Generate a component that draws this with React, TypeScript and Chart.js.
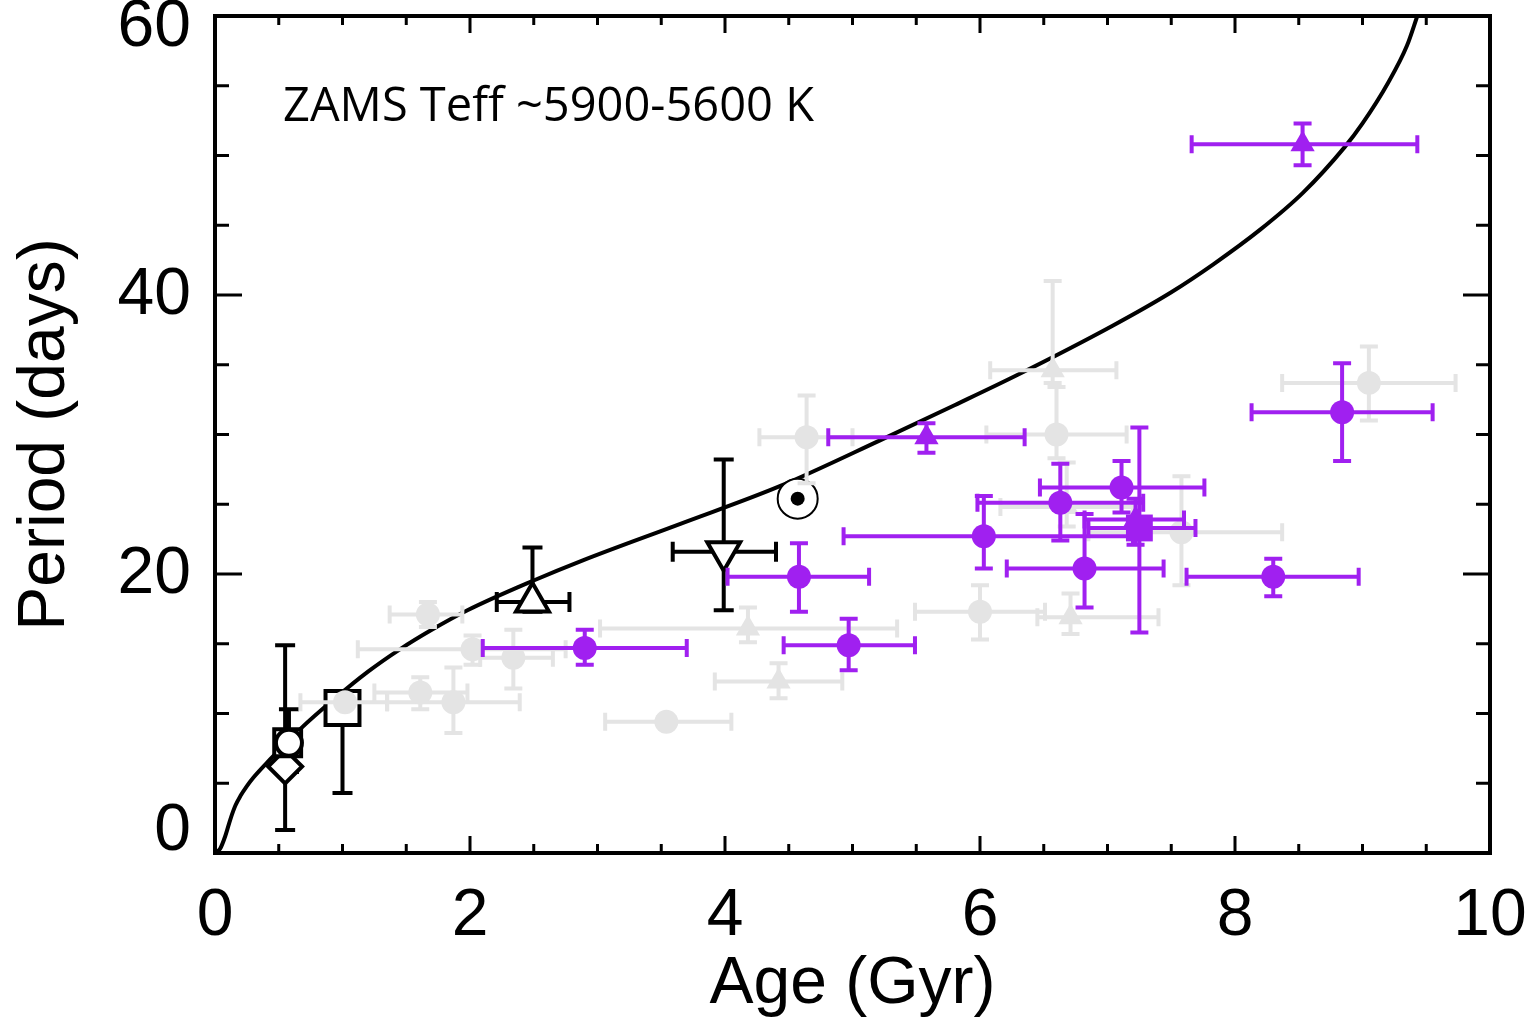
import React, { useEffect, useRef } from "react";
import { Chart, registerables } from "chart.js";

Chart.register(...registerables);

const FONT = "'Liberation Sans', Arial, Helvetica, sans-serif";
const TEXT_FONT = "'Open Sans', 'Noto Sans', sans-serif";
const PURPLE = "#a020f0";
const GRAY = "#e4e4e4";

// Axis ticks
const xTickValues = [0, 2, 4, 6, 8, 10];
const yTickValues = [0, 20, 40, 60];

// Annotation
const annotationText = "ZAMS Teff ~5900-5600 K";

// Model spin-down curve
const curveAge = [0, 0.04, 0.08, 0.12, 0.16, 0.2, 0.25, 0.3, 0.41, 0.55, 0.67, 0.93, 1.2, 1.45, 1.7, 1.98, 2.49, 2.89, 3.65, 4.43, 5.22, 5.8, 6.3, 7.04, 7.5, 7.83, 8.2, 8.53, 8.86, 9.0, 9.2, 9.35, 9.43];
const curvePeriod = [0, 0.3, 1.2, 2.4, 3.4, 4.1, 4.8, 5.4, 6.5, 7.8, 8.9, 11.0, 13.0, 14.6, 16.0, 17.4, 19.5, 21.0, 23.6, 26.3, 29.6, 32.1, 34.3, 37.8, 40.2, 42.2, 44.7, 47.3, 50.6, 52.3, 55.2, 57.9, 60];

// Purple filled circles
const purpleCircleAge = [2.90, 4.58, 4.97, 6.03, 6.63, 7.11, 6.82, 8.30, 8.84];
const purpleCircleAgeLo = [2.10, 4.02, 4.46, 4.93, 5.98, 6.47, 6.21, 7.62, 8.13];
const purpleCircleAgeHi = [3.70, 5.13, 5.49, 7.20, 7.28, 7.76, 7.44, 8.97, 9.55];
const purpleCirclePeriod = [14.7, 19.8, 14.9, 22.7, 25.1, 26.2, 20.4, 19.8, 31.6];
const purpleCirclePeriodLo = [13.5, 17.3, 13.1, 20.4, 22.4, 24.4, 17.6, 18.4, 28.1];
const purpleCirclePeriodHi = [16.0, 22.2, 16.8, 25.6, 27.9, 28.1, 24.3, 21.1, 35.1];

// Purple filled triangles
const purpleTriAge = [5.58, 8.53, 7.22];
const purpleTriAgeLo = [4.81, 7.66, 6.82];
const purpleTriAgeHi = [6.35, 9.43, 7.60];
const purpleTriPeriod = [29.8, 50.8, 23.9];
const purpleTriPeriodLo = [28.7, 49.3, 22.1];
const purpleTriPeriodHi = [30.8, 52.3, 25.4];

// Purple filled square
const purpleSqAge = [7.25];
const purpleSqAgeLo = [6.85];
const purpleSqAgeHi = [7.69];
const purpleSqPeriod = [23.3];
const purpleSqPeriodLo = [15.8];
const purpleSqPeriodHi = [30.5];

// Gray circles
const grayCircleAge = [1.67, 2.02, 2.34, 1.61, 1.87, 1.02, 3.54, 4.64, 6.00, 6.60, 9.05, 7.58];
const grayCircleAgeLo = [1.37, 1.12, 2.08, 1.25, 1.35, 0.67, 3.06, 4.27, 5.49, 6.05, 8.37, 6.85];
const grayCircleAgeHi = [1.94, 2.75, 2.65, 1.98, 2.39, 1.35, 4.05, 5.00, 6.51, 7.15, 9.73, 8.37];
const grayCirclePeriod = [17.1, 14.6, 14.0, 11.5, 10.8, 10.8, 9.4, 29.8, 17.3, 30.0, 33.7, 23.0];
const grayCirclePeriodLo = [16.2, 13.5, 11.8, 10.3, 8.6, 10.8, 9.4, 26.5, 15.3, 28.3, 31.0, 19.2];
const grayCirclePeriodHi = [18.0, 15.6, 16.0, 12.6, 13.3, 10.8, 9.4, 32.8, 19.2, 33.4, 36.3, 27.0];

// Gray triangles
const grayTriAge = [4.18, 4.42, 6.71, 6.57, 6.68];
const grayTriAgeLo = [3.02, 3.92, 6.45, 6.08, 6.16];
const grayTriAgeHi = [5.35, 4.92, 7.40, 7.07, 7.20];
const grayTriPeriod = [16.1, 12.3, 16.9, 34.6, 24.8];
const grayTriPeriodLo = [15.1, 11.1, 15.7, 33.7, 23.4];
const grayTriPeriodHi = [17.6, 13.6, 18.6, 41.0, 28.0];

// Black open symbols (diamond, square, circle, square, triangle up, triangle down)
const blackAge = [0.55, 0.57, 0.58, 1.00, 2.49, 3.99];
const blackAgeLo = [0.55, 0.57, 0.58, 1.00, 2.21, 3.59];
const blackAgeHi = [0.55, 0.57, 0.58, 1.00, 2.78, 4.40];
const blackPeriod = [6.2, 7.9, 7.9, 10.4, 18.0, 21.6];
const blackPeriodLo = [1.65, 7.9, 5.8, 4.3, 17.3, 17.4];
const blackPeriodHi = [14.9, 7.9, 10.3, 10.4, 21.9, 28.2];

// Sun
const sunAge = [4.57];
const sunPeriod = [25.4];

const pts = (xs: number[], ys: number[]) => xs.map((x, i) => ({ x, y: ys[i] }));

const errorBarPlugin = {
  id: "errorBars",
  beforeDatasetDraw(chart: any, args: any) {
    const ds: any = chart.data.datasets[args.index];
    const eb = ds.errorBars;
    if (!eb) return;
    const { ctx, chartArea } = chart;
    const xs = chart.scales.x;
    const ys = chart.scales.y;
    ctx.save();
    ctx.beginPath();
    ctx.rect(chartArea.left, chartArea.top, chartArea.right - chartArea.left, chartArea.bottom - chartArea.top);
    ctx.clip();
    ctx.strokeStyle = ds.errorColor;
    ctx.lineWidth = ds.errorWidth;
    ctx.lineCap = "butt";
    const cap = ds.errorCap;
    ds.data.forEach((p: any, i: number) => {
      const px = xs.getPixelForValue(p.x);
      const py = ys.getPixelForValue(p.y);
      if (eb.xLo[i] !== eb.xHi[i]) {
        const x1 = xs.getPixelForValue(eb.xLo[i]);
        const x2 = xs.getPixelForValue(eb.xHi[i]);
        ctx.beginPath();
        ctx.moveTo(x1, py);
        ctx.lineTo(x2, py);
        ctx.moveTo(x1, py - cap);
        ctx.lineTo(x1, py + cap);
        ctx.moveTo(x2, py - cap);
        ctx.lineTo(x2, py + cap);
        ctx.stroke();
      }
      if (eb.yLo[i] !== eb.yHi[i]) {
        const y1 = ys.getPixelForValue(eb.yLo[i]);
        const y2 = ys.getPixelForValue(eb.yHi[i]);
        ctx.beginPath();
        ctx.moveTo(px, y1);
        ctx.lineTo(px, y2);
        ctx.moveTo(px - cap, y1);
        ctx.lineTo(px + cap, y1);
        ctx.moveTo(px - cap, y2);
        ctx.lineTo(px + cap, y2);
        ctx.stroke();
      }
    });
    ctx.restore();
  },
};

const framePlugin = {
  id: "frameTicks",
  afterDatasetsDraw(chart: any) {
    const { ctx, chartArea } = chart;
    const xs = chart.scales.x;
    const ys = chart.scales.y;
    const { left, right, top, bottom } = chartArea;
    ctx.save();
    ctx.strokeStyle = "#000";
    ctx.lineWidth = 3;
    ctx.lineCap = "butt";
    ctx.beginPath();
    for (let i = 0; i <= 20; i++) {
      const v = i * 0.5;
      const px = xs.getPixelForValue(v);
      const len = i % 4 === 0 ? 17 : 9;
      ctx.moveTo(px, bottom);
      ctx.lineTo(px, bottom - len);
      ctx.moveTo(px, top);
      ctx.lineTo(px, top + len);
    }
    for (let i = 0; i <= 12; i++) {
      const v = i * 5;
      const py = ys.getPixelForValue(v);
      const len = i % 4 === 0 ? 27 : 14;
      ctx.moveTo(left, py);
      ctx.lineTo(left + len, py);
      ctx.moveTo(right, py);
      ctx.lineTo(right - len, py);
    }
    ctx.stroke();
    ctx.lineWidth = 4;
    ctx.strokeRect(left, top, right - left, bottom - top);
    ctx.restore();
  },
  afterDraw(chart: any) {
    const { ctx, chartArea } = chart;
    const ys = chart.scales.y;
    ctx.save();
    ctx.fillStyle = "#000";
    ctx.font = `66px ${FONT}`;
    ctx.textAlign = "right";
    ctx.textBaseline = "middle";
    yTickValues.forEach((v) => {
      let py = ys.getPixelForValue(v);
      py = Math.min(Math.max(py, chartArea.top + 11), chartArea.bottom - 22);
      ctx.fillText(String(v), chartArea.left - 24, py + 1);
    });
    ctx.font = `47px ${TEXT_FONT}`;
    ctx.textAlign = "left";
    ctx.textBaseline = "alphabetic";
    ctx.fillText(annotationText, chartArea.left + 68, chartArea.top + 105);
    ctx.restore();
  },
};

export default function App() {
  const ref = useRef<HTMLCanvasElement | null>(null);
  useEffect(() => {
    if (!ref.current) return;
    const chart = new Chart(ref.current, {
      type: "scatter",
      data: {
        datasets: [
          {
            label: "purple square",
            data: pts(purpleSqAge, purpleSqPeriod),
            pointStyle: "rect",
            pointRadius: 19,
            pointBackgroundColor: PURPLE,
            pointBorderColor: PURPLE,
            pointBorderWidth: 0,
            errorBars: { xLo: purpleSqAgeLo, xHi: purpleSqAgeHi, yLo: purpleSqPeriodLo, yHi: purpleSqPeriodHi },
            errorColor: PURPLE,
            errorWidth: 4,
            errorCap: 9,
          } as any,
          {
            label: "purple triangles",
            data: pts(purpleTriAge, purpleTriPeriod),
            pointStyle: "triangle",
            pointRadius: 14,
            pointBackgroundColor: PURPLE,
            pointBorderColor: PURPLE,
            pointBorderWidth: 0,
            errorBars: { xLo: purpleTriAgeLo, xHi: purpleTriAgeHi, yLo: purpleTriPeriodLo, yHi: purpleTriPeriodHi },
            errorColor: PURPLE,
            errorWidth: 4,
            errorCap: 9,
          } as any,
          {
            label: "purple circles",
            data: pts(purpleCircleAge, purpleCirclePeriod),
            pointStyle: "circle",
            pointRadius: 12,
            pointBackgroundColor: PURPLE,
            pointBorderColor: PURPLE,
            pointBorderWidth: 0,
            errorBars: { xLo: purpleCircleAgeLo, xHi: purpleCircleAgeHi, yLo: purpleCirclePeriodLo, yHi: purpleCirclePeriodHi },
            errorColor: PURPLE,
            errorWidth: 4,
            errorCap: 9,
          } as any,
          {
            label: "gray triangles",
            data: pts(grayTriAge, grayTriPeriod),
            pointStyle: "triangle",
            pointRadius: 14,
            pointBackgroundColor: GRAY,
            pointBorderColor: GRAY,
            pointBorderWidth: 0,
            errorBars: { xLo: grayTriAgeLo, xHi: grayTriAgeHi, yLo: grayTriPeriodLo, yHi: grayTriPeriodHi },
            errorColor: GRAY,
            errorWidth: 4,
            errorCap: 9,
          } as any,
          {
            label: "gray circles",
            data: pts(grayCircleAge, grayCirclePeriod),
            pointStyle: "circle",
            pointRadius: 12,
            pointBackgroundColor: GRAY,
            pointBorderColor: GRAY,
            pointBorderWidth: 0,
            errorBars: { xLo: grayCircleAgeLo, xHi: grayCircleAgeHi, yLo: grayCirclePeriodLo, yHi: grayCirclePeriodHi },
            errorColor: GRAY,
            errorWidth: 4,
            errorCap: 9,
          } as any,
          {
            label: "sun dot",
            data: pts(sunAge, sunPeriod),
            pointStyle: "circle",
            pointRadius: 7,
            pointBackgroundColor: "#000",
            pointBorderColor: "#000",
            pointBorderWidth: 0,
          },
          {
            label: "sun ring",
            data: pts(sunAge, sunPeriod),
            pointStyle: "circle",
            pointRadius: 20,
            pointBackgroundColor: "#fff",
            pointBorderColor: "#000",
            pointBorderWidth: 2,
          },
          {
            label: "black",
            data: pts(blackAge, blackPeriod),
            pointStyle: ["rectRot", "rect", "circle", "rect", "triangle", "triangle"],
            rotation: [0, 0, 0, 0, 0, 180],
            pointRadius: [17, 19, 13, 24, 19, 19],
            pointBackgroundColor: "#fff",
            pointBorderColor: "#000",
            pointBorderWidth: 4,
            errorBars: { xLo: blackAgeLo, xHi: blackAgeHi, yLo: blackPeriodLo, yHi: blackPeriodHi },
            errorColor: "#000",
            errorWidth: 4,
            errorCap: 10,
          } as any,
          {
            label: "model",
            data: pts(curveAge, curvePeriod),
            showLine: true,
            pointRadius: 0,
            borderColor: "#000",
            borderWidth: 4,
            cubicInterpolationMode: "monotone",
            fill: false,
          } as any,
        ],
      },
      options: {
        responsive: false,
        animation: false,
        devicePixelRatio: 1,
        events: [],
        layout: { autoPadding: false, padding: { left: 0, right: 50, top: 16, bottom: 0 } },
        plugins: {
          legend: { display: false },
          tooltip: { enabled: false },
        },
        scales: {
          x: {
            type: "linear",
            position: "bottom",
            min: 0,
            max: 10,
            grid: { display: false, drawTicks: false },
            border: { display: false },
            ticks: {
              stepSize: 2,
              autoSkip: false,
              maxRotation: 0,
              padding: 24,
              color: "#000",
              font: { family: FONT, size: 66 },
            },
            title: {
              display: true,
              text: "Age (Gyr)",
              color: "#000",
              font: { family: FONT, size: 66 },
              padding: { top: 0, bottom: 3 },
            },
            afterFit: (s: any) => {
              s.height = 174;
              s.paddingLeft = 0;
              s.paddingRight = 0;
            },
          },
          y: {
            type: "linear",
            position: "left",
            min: 0,
            max: 60,
            grid: { display: false, drawTicks: false },
            border: { display: false },
            ticks: { display: false, stepSize: 20 },
            title: {
              display: true,
              text: "Period (days)",
              color: "#000",
              font: { family: FONT, size: 66 },
              padding: { top: 6, bottom: 0 },
            },
            afterFit: (s: any) => {
              s.width = 215;
              s.paddingTop = 0;
              s.paddingBottom = 0;
            },
          },
        },
      } as any,
      plugins: [errorBarPlugin, framePlugin],
    });
    return () => chart.destroy();
  }, []);

  return (
    <div style={{ position: "absolute", left: 0, top: 0, width: 1540, height: 1027, background: "#fff" }}>
      <canvas ref={ref} width={1540} height={1027} style={{ display: "block" }} />
    </div>
  );
}
